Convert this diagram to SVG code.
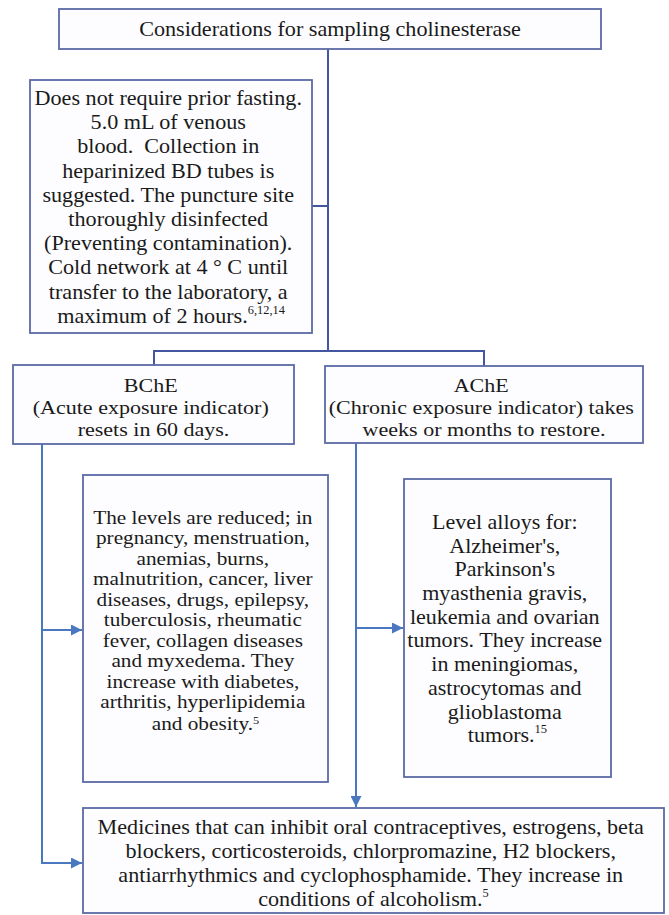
<svg xmlns="http://www.w3.org/2000/svg" width="669" height="915" viewBox="0 0 669 915">
<style>
.box{fill:#fdfdff;stroke:#5a6aa6;stroke-width:1.8}
.t{font-family:"Liberation Serif","Times New Roman",serif;font-size:22px;fill:#1a1a1a;text-anchor:middle}
.sup{font-size:12px}
.tree{fill:none;stroke:#4556a0;stroke-width:2}
.arr{fill:none;stroke:#4a78c0;stroke-width:2}
</style>
<defs>
<marker id="ah" viewBox="0 0 10 10" refX="10" refY="5" markerWidth="11" markerHeight="11" markerUnits="userSpaceOnUse" orient="auto">
<path d="M0,0 L10,5 L0,10 z" fill="#4a78c0"/>
</marker>
</defs>
<g id="connectors">
<path class="tree" d="M328,49 V351"/>
<path class="tree" d="M312,206 H328"/>
<path class="tree" d="M154,365 V351 H484 V366"/>
<path class="arr" d="M42,444 V863 H82" marker-end="url(#ah)"/>
<path class="arr" d="M42,630 H82" marker-end="url(#ah)"/>
<path class="arr" d="M356,443 V807" marker-end="url(#ah)"/>
<path class="arr" d="M356,628 H403" marker-end="url(#ah)"/>
</g>
<g id="title">
<rect class="box" x="59" y="9" width="542" height="40"/>
<text class="t" style="font-size:21.5px" transform="translate(330 0) scale(1.03 1)" x="0" y="36">Considerations for sampling cholinesterase</text>
</g>
<g id="sampling">
<rect class="box" x="30" y="80" width="282" height="253"/>
<text class="t" style="font-size:21.5px" transform="translate(171 0) scale(1.03 1)">
<tspan x="0" y="105">Does not require prior fasting.</tspan>
<tspan x="0" y="129.2">5.0 mL of venous</tspan>
<tspan x="0" y="153.4" xml:space="preserve">blood.  Collection in</tspan>
<tspan x="0" y="177.6">heparinized BD tubes is</tspan>
<tspan x="0" y="201.8">suggested. The puncture site</tspan>
<tspan x="0" y="226">thoroughly disinfected</tspan>
<tspan x="0" y="250.2">(Preventing contamination).</tspan>
<tspan x="0" y="274.4">Cold network at 4 ° C until</tspan>
<tspan x="0" y="298.6">transfer to the laboratory, a</tspan>
<tspan x="0" y="322.8">maximum of 2 hours.<tspan class="sup" dy="-9">6,12,14</tspan></tspan>
</text>
</g>
<g id="bche">
<rect class="box" x="13" y="365" width="281" height="79"/>
<text class="t" style="font-size:19.5px" transform="translate(153.5 0) scale(1.13 1)">
<tspan x="0" y="392">BChE</tspan>
<tspan x="0" y="414">(Acute exposure indicator)</tspan>
<tspan x="0" y="436">resets in 60 days.</tspan>
</text>
</g>
<g id="ache">
<rect class="box" x="325" y="366" width="318" height="77"/>
<text class="t" style="font-size:19.5px" transform="translate(484 0) scale(1.13 1)">
<tspan x="0" y="392">AChE</tspan>
<tspan x="0" y="414">(Chronic exposure indicator) takes</tspan>
<tspan x="0" y="436">weeks or months to restore.</tspan>
</text>
</g>
<g id="bche-levels">
<rect class="box" x="83" y="475" width="245" height="307"/>
<text class="t" style="font-size:18px" transform="translate(205.5 0) scale(1.18 1)">
<tspan x="0" y="524">The levels are reduced; in</tspan>
<tspan x="0" y="544.5">pregnancy, menstruation,</tspan>
<tspan x="0" y="565">anemias, burns,</tspan>
<tspan x="0" y="585.5">malnutrition, cancer, liver</tspan>
<tspan x="0" y="606">diseases, drugs, epilepsy,</tspan>
<tspan x="0" y="626.5">tuberculosis, rheumatic</tspan>
<tspan x="0" y="647">fever, collagen diseases</tspan>
<tspan x="0" y="667.5">and myxedema. They</tspan>
<tspan x="0" y="688">increase with diabetes,</tspan>
<tspan x="0" y="708.5">arthritis, hyperlipidemia</tspan>
<tspan x="0" y="730">and obesity.<tspan style="font-size:10.5px" dy="-6">5</tspan></tspan>
</text>
</g>
<g id="ache-levels">
<rect class="box" x="404" y="479" width="207" height="298"/>
<text class="t" style="font-size:21px" transform="translate(507.5 0) scale(1.05 1)">
<tspan x="0" y="529">Level alloys for:</tspan>
<tspan x="0" y="552.7">Alzheimer's,</tspan>
<tspan x="0" y="576.4">Parkinson's</tspan>
<tspan x="0" y="600.1">myasthenia gravis,</tspan>
<tspan x="0" y="623.8">leukemia and ovarian</tspan>
<tspan x="0" y="647.5">tumors. They increase</tspan>
<tspan x="0" y="671.2">in meningiomas,</tspan>
<tspan x="0" y="694.9">astrocytomas and</tspan>
<tspan x="0" y="718.6">glioblastoma</tspan>
<tspan x="0" y="742.3">tumors.<tspan class="sup" dy="-9">15</tspan></tspan>
</text>
</g>
<g id="medicines">
<rect class="box" x="83" y="808" width="581" height="105"/>
<text class="t" style="font-size:21.5px" transform="translate(373.5 0) scale(1.03 1)">
<tspan x="0" y="834">Medicines that can inhibit oral contraceptives, estrogens, beta</tspan>
<tspan x="0" y="858">blockers, corticosteroids, chlorpromazine, H2 blockers,</tspan>
<tspan x="0" y="882">antiarrhythmics and cyclophosphamide. They increase in</tspan>
<tspan x="0" y="906">conditions of alcoholism.<tspan class="sup" dy="-9">5</tspan></tspan>
</text>
</g>
</svg>
